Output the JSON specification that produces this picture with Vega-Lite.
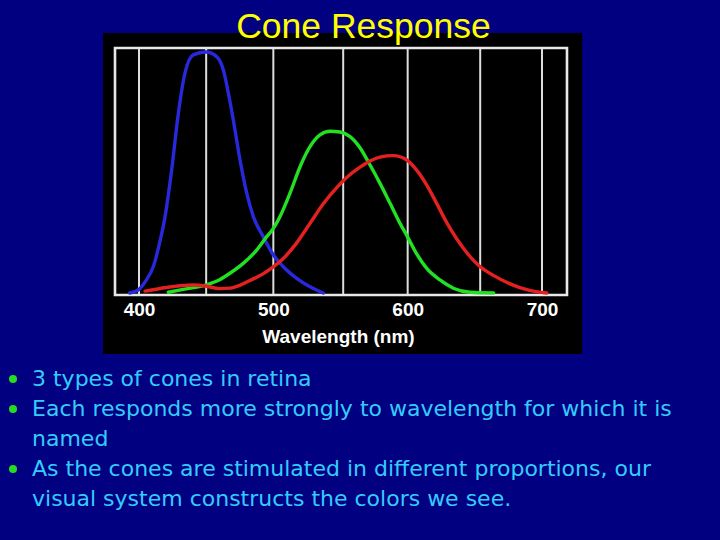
{
  "$schema": "https://vega.github.io/schema/vega-lite/v6.json",
  "background": "#000080",
  "padding": {"left": 0, "right": 0, "top": 10, "bottom": 32},
  "config": {"view": {"stroke": null}},
  "bounds": "flush",
  "center": true,
  "spacing": 84,
  "datasets": {
    "curves": [
      {"cone": "S", "wl": 393, "resp": 0.0},
      {"cone": "S", "wl": 400, "resp": 0.015},
      {"cone": "S", "wl": 405, "resp": 0.05},
      {"cone": "S", "wl": 410.7, "resp": 0.11},
      {"cone": "S", "wl": 415, "resp": 0.2},
      {"cone": "S", "wl": 419.4, "resp": 0.317},
      {"cone": "S", "wl": 424.3, "resp": 0.51},
      {"cone": "S", "wl": 429.3, "resp": 0.746},
      {"cone": "S", "wl": 434.2, "resp": 0.912},
      {"cone": "S", "wl": 440.4, "resp": 0.988},
      {"cone": "S", "wl": 449.6, "resp": 1.0},
      {"cone": "S", "wl": 457.8, "resp": 0.981},
      {"cone": "S", "wl": 462.8, "resp": 0.925},
      {"cone": "S", "wl": 466.5, "resp": 0.83},
      {"cone": "S", "wl": 470.2, "resp": 0.718},
      {"cone": "S", "wl": 475.2, "resp": 0.552},
      {"cone": "S", "wl": 480.2, "resp": 0.414},
      {"cone": "S", "wl": 485.1, "resp": 0.317},
      {"cone": "S", "wl": 492.5, "resp": 0.234},
      {"cone": "S", "wl": 499.2, "resp": 0.165},
      {"cone": "S", "wl": 507.4, "resp": 0.109},
      {"cone": "S", "wl": 517.4, "resp": 0.061},
      {"cone": "S", "wl": 527.3, "resp": 0.026},
      {"cone": "S", "wl": 537.2, "resp": 0.0},
      {"cone": "M", "wl": 421.8, "resp": 0.003},
      {"cone": "M", "wl": 433, "resp": 0.015},
      {"cone": "M", "wl": 449.6, "resp": 0.033},
      {"cone": "M", "wl": 460, "resp": 0.055},
      {"cone": "M", "wl": 467.7, "resp": 0.082},
      {"cone": "M", "wl": 477.6, "resp": 0.123},
      {"cone": "M", "wl": 487.6, "resp": 0.178},
      {"cone": "M", "wl": 495.1, "resp": 0.234},
      {"cone": "M", "wl": 499.2, "resp": 0.261},
      {"cone": "M", "wl": 505.0, "resp": 0.317},
      {"cone": "M", "wl": 512.4, "resp": 0.414},
      {"cone": "M", "wl": 519.9, "resp": 0.524},
      {"cone": "M", "wl": 527.3, "resp": 0.607},
      {"cone": "M", "wl": 534.7, "resp": 0.656},
      {"cone": "M", "wl": 542.2, "resp": 0.671},
      {"cone": "M", "wl": 549.6, "resp": 0.668},
      {"cone": "M", "wl": 557.1, "resp": 0.649},
      {"cone": "M", "wl": 564.5, "resp": 0.603},
      {"cone": "M", "wl": 572.0, "resp": 0.531},
      {"cone": "M", "wl": 579.4, "resp": 0.455},
      {"cone": "M", "wl": 586.9, "resp": 0.372},
      {"cone": "M", "wl": 594.3, "resp": 0.289},
      {"cone": "M", "wl": 600.0, "resp": 0.232},
      {"cone": "M", "wl": 605.5, "resp": 0.174},
      {"cone": "M", "wl": 614.2, "resp": 0.102},
      {"cone": "M", "wl": 624.1, "resp": 0.054},
      {"cone": "M", "wl": 634.0, "resp": 0.02},
      {"cone": "M", "wl": 646.4, "resp": 0.003},
      {"cone": "M", "wl": 664, "resp": 0.0},
      {"cone": "L", "wl": 404.5, "resp": 0.008},
      {"cone": "L", "wl": 420.6, "resp": 0.023},
      {"cone": "L", "wl": 440.4, "resp": 0.033},
      {"cone": "L", "wl": 449.6, "resp": 0.029},
      {"cone": "L", "wl": 460, "resp": 0.018},
      {"cone": "L", "wl": 467.7, "resp": 0.02},
      {"cone": "L", "wl": 475, "resp": 0.032},
      {"cone": "L", "wl": 482.6, "resp": 0.052},
      {"cone": "L", "wl": 492.5, "resp": 0.08},
      {"cone": "L", "wl": 499.2, "resp": 0.105},
      {"cone": "L", "wl": 507.4, "resp": 0.143},
      {"cone": "L", "wl": 517.4, "resp": 0.208},
      {"cone": "L", "wl": 527.3, "resp": 0.289},
      {"cone": "L", "wl": 537.2, "resp": 0.37},
      {"cone": "L", "wl": 547.2, "resp": 0.437},
      {"cone": "L", "wl": 555, "resp": 0.481},
      {"cone": "L", "wl": 564.5, "resp": 0.522},
      {"cone": "L", "wl": 572.0, "resp": 0.548},
      {"cone": "L", "wl": 579.4, "resp": 0.564},
      {"cone": "L", "wl": 589.3, "resp": 0.57},
      {"cone": "L", "wl": 599.3, "resp": 0.552},
      {"cone": "L", "wl": 606.7, "resp": 0.51},
      {"cone": "L", "wl": 614.2, "resp": 0.448},
      {"cone": "L", "wl": 621.6, "resp": 0.372},
      {"cone": "L", "wl": 629.1, "resp": 0.292},
      {"cone": "L", "wl": 636.5, "resp": 0.225},
      {"cone": "L", "wl": 643.9, "resp": 0.168},
      {"cone": "L", "wl": 653.1, "resp": 0.113},
      {"cone": "L", "wl": 663.8, "resp": 0.073},
      {"cone": "L", "wl": 676.2, "resp": 0.038},
      {"cone": "L", "wl": 690, "resp": 0.012},
      {"cone": "L", "wl": 703.5, "resp": 0.0}
    ],
    "grid": [
      {"wl": 400}, {"wl": 450}, {"wl": 500}, {"wl": 552}, {"wl": 600}, {"wl": 654}, {"wl": 700}
    ],
    "bullets": [
      {"line": 1, "level": 0, "text": "3 types of cones in retina"},
      {"line": 2, "level": 0, "text": "Each responds more strongly to wavelength for which it is"},
      {"line": 3, "level": 1, "text": "named"},
      {"line": 4, "level": 0, "text": "As the cones are stimulated in different proportions, our"},
      {"line": 5, "level": 1, "text": "visual system constructs the colors we see."}
    ]
  },
  "vconcat": [
    {
      "width": 490,
      "height": 247,
      "title": {
        "text": "Cone Response",
        "color": "#FFFF00",
        "font": "Liberation Sans",
        "fontSize": 35.5,
        "fontWeight": "normal",
        "anchor": "middle",
        "frame": "group",
        "baseline": "alphabetic",
        "dx": 3.5,
        "offset": -40.5
      },
      "layer": [
        {
          "data": {"values": [{"x1": 373.2, "x2": 729.8, "y1": -0.2531, "y2": 1.0788}]},
          "mark": {"type": "rect", "fill": "#000000"},
          "encoding": {
            "x": {"field": "x1", "type": "quantitative", "scale": {"domain": [382.13, 746.9], "nice": false, "zero": false},
              "axis": {
                "values": [400, 500, 600, 700],
                "format": "d",
                "grid": false,
                "domain": false,
                "ticks": false,
                "tickSize": 0,
                "labelPadding": 5.5,
                "labelColor": "#FFFFFF",
                "labelFont": "Liberation Sans",
                "labelFontWeight": "bold",
                "labelFontSize": 19,
                "title": "Wavelength (nm)",
                "titleColor": "#FFFFFF",
                "titleFont": "Liberation Sans",
                "titleFontWeight": "bold",
                "titleFontSize": 19,
                "titlePadding": 8,
                "titleX": 223,
                "titleAlign": "center",
                "zindex": 1
              }},
            "x2": {"field": "x2"},
            "y": {"field": "y1", "type": "quantitative", "scale": {"domain": [-0.0083, 1.0166], "nice": false, "zero": false}, "axis": null},
            "y2": {"field": "y2"}
          }
        },
        {
          "data": {"name": "grid"},
          "mark": {"type": "rule", "color": "#DDDDDD", "strokeWidth": 2},
          "encoding": {
            "x": {"field": "wl", "type": "quantitative"},
            "y": {"datum": -0.0083, "type": "quantitative"},
            "y2": {"datum": 1.0166}
          }
        },
        {
          "data": {"values": [{"x1": 382.13, "x2": 718.6, "y1": -0.0083, "y2": 1.0166}]},
          "mark": {"type": "rect", "fill": null, "stroke": "#E8E8E8", "strokeWidth": 2.6},
          "encoding": {
            "x": {"field": "x1", "type": "quantitative"},
            "x2": {"field": "x2"},
            "y": {"field": "y1", "type": "quantitative"},
            "y2": {"field": "y2"}
          }
        },
        {
          "data": {"name": "curves"},
          "mark": {"type": "line", "interpolate": "monotone", "strokeWidth": 3.4, "strokeCap": "round"},
          "encoding": {
            "x": {"field": "wl", "type": "quantitative"},
            "y": {"field": "resp", "type": "quantitative"},
            "color": {"field": "cone", "type": "nominal", "scale": {"domain": ["S", "M", "L"], "range": ["#2828DC", "#22E022", "#E42020"]}, "legend": null},
            "order": {"field": "wl"}
          }
        }
      ]
    },
    {
      "width": 720,
      "height": 120,
      "data": {"name": "bullets"},
      "layer": [
        {
          "transform": [{"filter": "datum.level == 0"}],
          "mark": {"type": "point", "filled": true, "shape": "circle", "size": 64, "color": "#22DD22", "opacity": 1},
          "encoding": {
            "x": {"datum": 0, "type": "quantitative", "scale": {"domain": [0, 1], "range": [13, 32]}, "axis": null},
            "y": {"field": "line", "type": "quantitative", "scale": {"domain": [1, 5], "reverse": true, "nice": false, "zero": false}, "axis": null}
          }
        },
        {
          "mark": {"type": "text", "align": "left", "baseline": "middle", "font": "DejaVu Sans", "fontSize": 22, "color": "#33CCFF"},
          "encoding": {
            "x": {"datum": 1, "type": "quantitative"},
            "y": {"field": "line", "type": "quantitative"},
            "text": {"field": "text"}
          }
        }
      ]
    }
  ]
}
